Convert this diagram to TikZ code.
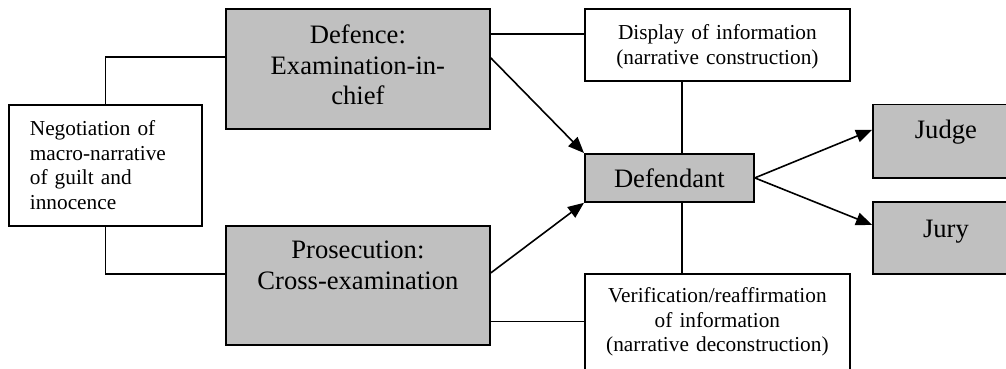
\documentclass[tikz,border=0pt]{standalone}
\usepackage{fontspec}
\setmainfont{Liberation Serif}
\usetikzlibrary{arrows.meta}
\definecolor{boxgray}{RGB}{192,192,192}
\tikzset{
  bigbox/.style={draw, fill=boxgray, line width=1.8pt, inner xsep=4pt, inner ysep=0pt,
    anchor=north west, align=center, font={\fontsize{26.6}{30.5}\selectfont}},
  smallbox/.style={draw, fill=white, line width=1.8pt, inner xsep=4pt, inner ysep=0pt,
    anchor=north west, align=center, font={\fontsize{21.3}{24.5}\selectfont}},
  link/.style={line width=1.6pt},
  arrow/.style={line width=1.6pt, -{Triangle[length=16pt,width=13pt]}}
}

\begin{document}
\begin{tikzpicture}[x=1pt,y=-1pt]
    \useasboundingbox (0,0) rectangle (1006,368);
    \clip (0,0) rectangle (1006,368);
    % Boxes
    \node[smallbox, align=left, inner xsep=21pt, text width=151pt, text height=31pt, text depth=90pt] (neg) at (8,104)
        {Negotiation of\\ macro-narrative\\ of guilt and\\ innocence};
    \node[bigbox, text width=256pt, text height=34.7pt, text depth=85.3pt] (def) at (225,8)
        {Defence:\\ Examination-in-\\ chief};
    \node[bigbox, text width=256pt, text height=33pt, text depth=86pt] (pro) at (225,225)
        {Prosecution:\\ Cross-examination};
    \node[smallbox, text width=257pt, text height=31pt, text depth=41pt] (dis) at (584,8)
        {Display of information\\ (narrative construction)};
    \node[bigbox, text width=161pt, text height=33.7pt, text depth=14.3pt] (dfd) at (584,153)
        {Defendant};
    \node[smallbox, text width=257pt, text height=28.7pt, text depth=73.3pt] (ver) at (584,273)
        {Verification/reaffirmation\\ of information\\ (narrative deconstruction)};
    \node[bigbox, text width=138pt, text height=34.5pt, text depth=39pt] (jud) at (872,103.5)
        {Judge};
    \node[bigbox, text width=138pt, text height=35.7pt, text depth=36.3pt] (jur) at (872,201)
        {Jury};
    % Links
    \draw[link] (neg.north) |- ([yshift=12pt]def.west);
    \draw[link] (neg.south) |- ([yshift=11.5pt]pro.west);
    \draw[link] ([yshift=11pt]dis.west) -- ([yshift=11pt]dis.west -| def.east);
    \draw[link] ([yshift=3.3pt]ver.west) -- ([yshift=3.3pt]ver.west -| pro.east);
    \draw[link] ([xshift=-35.5pt]dis.south) -- ([xshift=-35.5pt]dis.south |- dfd.north);
    \draw[link] ([xshift=-35.5pt]ver.north) -- ([xshift=-35.5pt]ver.north |- dfd.south);
    % Arrows
    \draw[arrow] ([yshift=11pt]def.east) -- (dfd.north west);
    \draw[arrow] ([yshift=12.5pt]pro.east) -- (dfd.south west);
    \draw[arrow] (dfd.east) -- ([yshift=11.25pt]jud.west);
    \draw[arrow] (dfd.east) -- ([yshift=13pt]jur.west);
\end{tikzpicture}
\end{document}
